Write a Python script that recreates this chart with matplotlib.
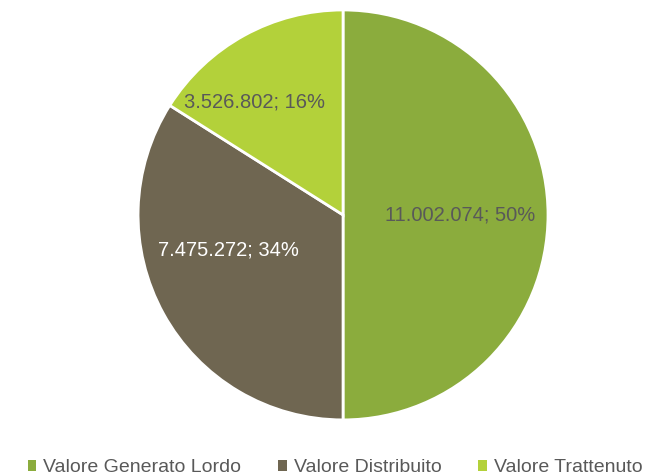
import matplotlib
matplotlib.use("Agg")
import matplotlib.pyplot as plt
from matplotlib.patches import Patch

categories = ["Valore Generato Lordo", "Valore Distribuito", "Valore Trattenuto"]
values = [11002074, 7475272, 3526802]
labels = ["11.002.074; 50%", "7.475.272; 34%", "3.526.802; 16%"]
colors = ["#8BAC3D", "#6F6651", "#B3D13A"]
label_colors = ["#595959", "#FFFFFF", "#595959"]
label_pos = [(0.57, 0.0), (-0.56, -0.17), (-0.43, 0.55)]

plt.rcParams['font.family'] = ['Liberation Sans', 'DejaVu Sans']

fig = plt.figure(figsize=(6.7, 4.75), dpi=100)
ax = fig.add_axes([0.206, 0.116, 0.612, 0.863])
wedges, texts = ax.pie(values, colors=colors, startangle=90, counterclock=False,
                       labels=labels, labeldistance=0.5,
                       wedgeprops=dict(edgecolor="white", linewidth=2))
for t, c, p in zip(texts, label_colors, label_pos):
    t.set_position(p)
    t.set_color(c)
    t.set_fontsize(14.5)
    t.set_ha("center")
    t.set_va("center")
ax.set_aspect("equal")
ax.set_xlim(-1, 1)
ax.set_ylim(-1, 1)

handles = [Patch(facecolor=c, edgecolor="none") for c in colors]
fig.legend(handles, categories, loc="lower center", bbox_to_anchor=(0.5, -0.04),
           ncol=3, frameon=False, fontsize=14, handlelength=0.45, handleheight=0.45,
           handletextpad=0.35, columnspacing=1.9, labelcolor="#595959")
fig.savefig("out.png", dpi=100)
